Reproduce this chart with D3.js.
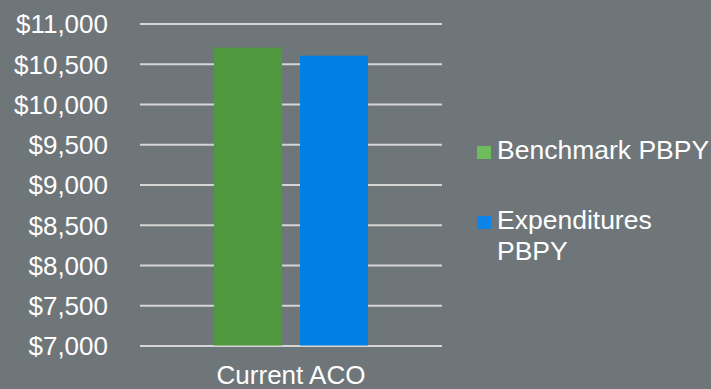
<!DOCTYPE html>
<html><head><meta charset="utf-8">
<script src="https://cdn.jsdelivr.net/npm/d3@7"></script>
<style>
html,body{margin:0;padding:0;background:#6f767a;}
svg{display:block;}
text{font-family:"Liberation Sans",Arial,sans-serif;fill:#fff;}
</style></head>
<body><svg id="c" width="711" height="389"></svg>
<script>
const categories = ["Current ACO"];
const seriesNames = ["Benchmark PBPY", "Expenditures PBPY"];
const benchmarkValues = [10700];
const expenditureValues = [10600];
const yTicks = [7000, 7500, 8000, 8500, 9000, 9500, 10000, 10500, 11000];
const barColors = ["#4f9a3f", "#0080e2"];
const legendColors = ["#6dbd5d", "#0a84e6"];

const svg = d3.select("#c");
const x0 = 140, x1 = 442, yTop = 23.5, yBot = 345.5;
const y = d3.scaleLinear().domain([7000, 11000]).range([yBot, yTop]);
const xCat = d3.scaleBand().domain(categories).range([x0, x1]).paddingInner(0.3245).paddingOuter(0.3245);
const xSer = d3.scaleBand().domain(seriesNames).range([0, xCat.bandwidth()]).paddingInner(0.209).paddingOuter(0);

// gridlines
const yAxis = d3.axisLeft(y).tickValues(yTicks).tickSize(-(x1 - x0)).tickFormat(d => "$" + d3.format(",")(d));
const g = svg.append("g").attr("transform", `translate(${x0},0)`).call(yAxis);
g.select(".domain").remove();
g.selectAll(".tick line").attr("stroke", "#d6d6d6").attr("stroke-width", 2);
g.selectAll(".tick text").attr("x", -32).attr("dy", "0.36em").style("font-size", "26px").attr("fill", "#fff");

const data = categories.map((c, i) => ({cat: c, vals: [benchmarkValues[i], expenditureValues[i]]}));
const grp = svg.append("g").selectAll("g").data(data).join("g")
  .attr("transform", d => `translate(${xCat(d.cat)},0)`);
grp.selectAll("rect").data(d => d.vals.map((v, j) => ({name: seriesNames[j], v, j}))).join("rect")
  .attr("x", d => xSer(d.name)).attr("width", xSer.bandwidth())
  .attr("y", d => y(d.v)).attr("height", d => y(7000) - y(d.v))
  .attr("fill", d => barColors[d.j]);

// category axis label
svg.append("g").selectAll("text").data(categories).join("text")
  .attr("x", d => xCat(d) + xCat.bandwidth() / 2).attr("y", 384)
  .attr("text-anchor", "middle").style("font-size", "26px").text(d => d);

// legend
const legendLines = [["Benchmark PBPY"], ["Expenditures", "PBPY"]];
const legY = [159, 229];
const leg = svg.append("g");
seriesNames.forEach((s, i) => {
  leg.append("rect").attr("x", 477).attr("y", legY[i] - 13).attr("width", 14).attr("height", 13).attr("fill", legendColors[i]);
  const t = leg.append("text").attr("x", 497).attr("y", legY[i]).style("font-size", "26.5px");
  legendLines[i].forEach((ln, k) => {
    t.append("tspan").attr("x", 497).attr("dy", k === 0 ? 0 : 31).text(ln);
  });
});
</script></body></html>
